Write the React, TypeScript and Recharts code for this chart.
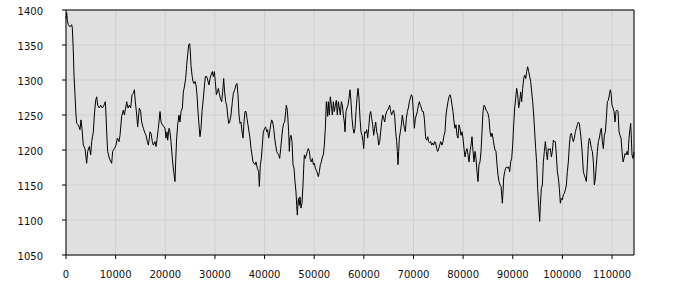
import React from "react";
import { LineChart, Line, XAxis, YAxis, CartesianGrid, ReferenceLine } from "recharts";

const sampleX: number[] = [
  0, 150, 270, 470, 810, 1140, 1280, 1480, 1610, 1810, 2010, 2150, 2480, 2820, 3020, 3220, 3490, 3830, 4160, 4370,
  4700, 4970, 5170, 5510, 5710, 5980, 6180, 6380, 6710, 6980, 7320, 7650, 7920, 8060, 8190, 8390, 8660, 8860, 9200, 9400,
  9740, 10070, 10340, 10680, 10880, 11210, 11550, 11750, 12020, 12220, 12490, 12760, 13030, 13300, 13560, 13770, 13970, 14240, 14440, 14770,
  15040, 15240, 15580, 15910, 16120, 16380, 16590, 16790, 16920, 17120, 17390, 17590, 17930,
  18130, 18330, 18600, 18940, 19140, 19410, 19740, 19940, 20145, 20346, 20480, 20750, 20950, 21150, 21420, 21690, 21960, 22090, 22290, 22500,
  22760, 22965, 23170, 23440, 23640, 23840, 24110, 24310, 24510, 24710, 24910, 25050, 25180, 25380, 25580, 25790, 25990, 26190, 26390, 26590,
  26790, 26990, 27200, 27400, 27670, 27870, 28070, 28340, 28540, 28810, 29010, 29210, 29480, 29680, 29880, 30080, 30290, 30490, 30690, 30890,
  31090, 31360, 31560, 31760, 31960, 32165, 32365, 32570, 32770, 32970, 33240, 33510, 33710, 33980, 34250, 34450, 34650, 34850, 35050, 35250,
  35455, 35660, 35860, 36060, 36260, 36460, 36660, 36865, 37065, 37270, 37470, 37670, 37870,
  38075, 38276, 38540, 38810, 38947, 39150, 39350, 39550, 39750, 40020, 40220, 40425, 40625, 40830, 41030, 41230, 41430, 41630, 41835, 42036,
  42240, 42440, 42640, 42840, 43043, 43245, 43450, 43650, 43850, 44050, 44250, 44386, 44520, 44655, 44855, 44990, 45125, 45330, 45530, 45730,
  45930, 46130, 46334, 46470, 46600, 46800, 47005, 47140, 47340, 47540, 47744, 47878, 48012, 48214, 48415, 48617, 48818, 49020, 49220, 49423,
  49624, 49826, 50027, 50228, 50430, 50631, 50833, 51034, 51236, 51437, 51639, 51840, 52041, 52243, 52444, 52578, 52713, 52847, 53049, 53250,
  53452, 53653, 53855, 54056, 54257, 54459, 54660, 54862, 55063, 55265, 55466, 55668, 55869, 56070, 56205,
  56406, 56608, 56810, 57010, 57212, 57414, 57615, 57817, 58018, 58220, 58421, 58622, 58824, 59025, 59227, 59428, 59630, 59831, 59965, 60167,
  60368, 60570, 60771, 60973, 61174, 61376, 61577, 61778, 61980, 62181, 62383, 62584, 62786, 62987, 63189, 63390, 63592, 63793, 63994, 64196,
  64397, 64599, 64800, 65002, 65203, 65405, 65606, 65807, 66009, 66210, 66412, 66613, 66748, 66882, 67016, 67150, 67352, 67553, 67755, 67956,
  68158, 68359, 68561, 68762, 68963, 69165, 69366, 69568, 69769, 69971, 70172, 70374, 70575, 70777, 70978, 71180, 71381, 71582, 71784, 71985,
  72187, 72321, 72455, 72657, 72858, 73060, 73261, 73463, 73664, 73865, 74067, 74268, 74470, 74671, 74873, 75074, 75276, 75477,
  75745, 75946, 76148, 76350, 76551, 76752, 76954, 77155, 77357, 77558, 77760, 77961, 78162, 78364, 78565, 78767, 78968, 79170, 79371, 79573,
  79774, 79975, 80177, 80378, 80580, 80781, 80983, 81184, 81386, 81587, 81788, 81990, 82191, 82393, 82594, 82796, 82997, 83199, 83400, 83601,
  83803, 84004, 84206, 84407, 84609, 84810, 85012, 85213, 85415, 85616, 85817, 86019, 86220, 86422, 86623, 86825, 87026, 87228, 87429, 87631,
  87765, 87899, 88033, 88168, 88369, 88571, 88772, 88973, 89175, 89376, 89578, 89779, 89981, 90182, 90384, 90585, 90787, 90988, 91189, 91391,
  91592, 91794, 91995, 92197, 92398, 92600, 92801, 93003, 93204, 93406, 93607, 93808, 94010, 94211, 94413, 94614,
  94816, 95017, 95219, 95420, 95554, 95756, 95957, 96159, 96360, 96562, 96763, 96965, 97166, 97367, 97569, 97770, 97972, 98173, 98375, 98576,
  98778, 98979, 99180, 99382, 99583, 99785, 99986, 100188, 100389, 100591, 100792, 100994, 101195, 101396, 101598, 101799, 102001, 102202, 102404, 102605,
  102807, 103008, 103210, 103411, 103612, 103814, 104015, 104217, 104418, 104620, 104821, 105023, 105224, 105425, 105627, 105828, 106030, 106231, 106433, 106634,
  106836, 107037, 107239, 107440, 107641, 107843, 108044, 108246, 108447, 108649, 108850, 109052, 109253, 109455, 109656, 109790, 109992, 110193, 110395, 110596,
  110797, 110999, 111200, 111402, 111603, 111805, 112006, 112208, 112409, 112611, 112812, 113014, 113215, 113417, 113618, 113752, 113886, 114020, 114222, 114420,
];

const level: number[] = [
  1388, 1396, 1385, 1379, 1376, 1379, 1374, 1340, 1307, 1279, 1250, 1238, 1236, 1229, 1243, 1231, 1207, 1202, 1181, 1198,
  1205, 1193, 1212, 1226, 1250, 1271, 1276, 1264, 1260, 1264, 1260, 1264, 1269, 1250, 1226, 1198, 1190, 1186, 1181, 1198,
  1202, 1207, 1217, 1212, 1221, 1248, 1257, 1250, 1260, 1269, 1260, 1264, 1260, 1279, 1281, 1286, 1269, 1250, 1233, 1260,
  1255, 1240, 1231, 1224, 1221, 1212, 1207, 1217, 1226, 1224, 1212, 1207, 1212,
  1205, 1215, 1231, 1255, 1240, 1236, 1233, 1231, 1217, 1226, 1214, 1231, 1226, 1212, 1188, 1169, 1155, 1183, 1217, 1236,
  1250, 1240, 1255, 1260, 1283, 1290, 1302, 1321, 1336, 1350, 1352, 1340, 1321, 1307, 1298, 1295, 1298, 1293, 1279, 1255,
  1236, 1219, 1231, 1255, 1274, 1290, 1305, 1305, 1300, 1293, 1302, 1307, 1312, 1305, 1312, 1298, 1279, 1283, 1288, 1281,
  1274, 1269, 1283, 1302, 1283, 1269, 1264, 1250, 1238, 1240, 1250, 1269, 1281, 1286, 1293, 1295, 1279, 1250, 1238, 1240,
  1226, 1217, 1240, 1255, 1255, 1245, 1236, 1226, 1217, 1202, 1193, 1183, 1181,
  1179, 1183, 1174, 1169, 1148, 1179, 1188, 1207, 1226, 1231, 1233, 1226, 1229, 1217, 1226, 1236, 1243, 1240, 1231, 1217,
  1207, 1198, 1195, 1193, 1188, 1202, 1217, 1231, 1238, 1240, 1255, 1264, 1260, 1250, 1226, 1198, 1217, 1221, 1212, 1179,
  1174, 1155, 1140, 1121, 1107, 1131, 1121, 1133, 1117, 1124, 1150, 1174, 1193, 1188, 1193, 1198, 1202, 1198, 1186, 1183,
  1188, 1179, 1181, 1174, 1171, 1167, 1162, 1169, 1179, 1183, 1190, 1193, 1207, 1231, 1269, 1260, 1248, 1269, 1250, 1276,
  1264, 1250, 1269, 1255, 1264, 1271, 1250, 1269, 1260, 1250, 1269, 1264, 1250, 1240, 1226,
  1255, 1260, 1264, 1274, 1286, 1269, 1245, 1231, 1224, 1231, 1255, 1274, 1288, 1274, 1245, 1226, 1221, 1212, 1202, 1226,
  1224, 1229, 1217, 1231, 1250, 1255, 1245, 1236, 1221, 1231, 1240, 1226, 1221, 1207, 1212, 1226, 1240, 1250, 1245, 1240,
  1250, 1255, 1257, 1260, 1264, 1255, 1250, 1255, 1257, 1248, 1226, 1212, 1198, 1179, 1198, 1217, 1226, 1236, 1250, 1240,
  1231, 1226, 1245, 1255, 1260, 1269, 1274, 1279, 1276, 1255, 1231, 1245, 1250, 1255, 1264, 1269, 1264, 1260, 1255, 1255,
  1245, 1231, 1217, 1214, 1219, 1212, 1210, 1212, 1207, 1210, 1207, 1212, 1210, 1202, 1198, 1202, 1207, 1212,
  1207, 1212, 1221, 1226, 1250, 1260, 1269, 1276, 1279, 1274, 1264, 1255, 1240, 1231, 1236, 1221, 1217, 1236, 1231, 1221,
  1226, 1217, 1202, 1190, 1198, 1202, 1193, 1183, 1198, 1207, 1219, 1198, 1183, 1198, 1188, 1169, 1155, 1179, 1183, 1198,
  1226, 1255, 1264, 1262, 1257, 1255, 1252, 1245, 1226, 1219, 1224, 1217, 1207, 1200, 1198, 1179, 1164, 1155, 1150, 1148,
  1136, 1124, 1140, 1160, 1169, 1174, 1176, 1174, 1176, 1169, 1183, 1188, 1207, 1236, 1260, 1274, 1288, 1279, 1260, 1269,
  1283, 1269, 1288, 1302, 1307, 1302, 1312, 1319, 1312, 1305, 1298, 1283, 1269, 1250, 1226, 1202,
  1181, 1145, 1120, 1098, 1121, 1145, 1150, 1183, 1198, 1212, 1198, 1186, 1202, 1200, 1202, 1190, 1198, 1214, 1212, 1212,
  1193, 1169, 1160, 1145, 1124, 1131, 1129, 1136, 1138, 1143, 1150, 1169, 1183, 1207, 1221, 1224, 1217, 1212, 1217, 1226,
  1231, 1236, 1240, 1238, 1226, 1212, 1193, 1169, 1164, 1160, 1155, 1179, 1207, 1217, 1212, 1202, 1198, 1183, 1150, 1160,
  1179, 1198, 1212, 1217, 1226, 1231, 1212, 1202, 1221, 1226, 1245, 1269, 1271, 1279, 1286, 1281, 1264, 1260, 1255, 1240,
  1255, 1257, 1255, 1226, 1221, 1217, 1198, 1183, 1188, 1195, 1193, 1198, 1193, 1217, 1231, 1238, 1217, 1193, 1188, 1197,
];

const xTicks: number[] = [0, 10000, 20000, 30000, 40000, 50000, 60000, 70000, 80000, 90000, 100000, 110000];
const yTicks: number[] = [1050, 1100, 1150, 1200, 1250, 1300, 1350, 1400];

const data = sampleX.map((x, i) => ({ x, v: level[i] }));

const tickStyle = { fill: "#111", fontSize: 10, fontFamily: "'DejaVu Sans', Verdana, sans-serif" };

export default function App() {
  return (
    <div style={{ position: "absolute", left: 0, top: 0, width: 700, height: 300, background: "#fff" }}>
      <LineChart width={700} height={300} data={data} margin={{ top: 10, right: 0, bottom: 0, left: 0 }}>
        <CartesianGrid stroke="#cfcfcf" fill="#e0e0e0" fillOpacity={1} />
        <XAxis
          dataKey="x"
          type="number"
          domain={[0, "dataMax"]}
          ticks={xTicks}
          height={45}
          tick={tickStyle}
          tickSize={4}
          tickMargin={12}
          stroke="#000"
          interval={0}
        />
        <YAxis
          type="number"
          domain={[1050, 1400]}
          ticks={yTicks}
          width={66}
          tick={{ ...tickStyle, dy: 1 }}
          tickSize={4}
          tickMargin={19}
          stroke="#000"
          interval={0}
        />
        <YAxis
          yAxisId="right"
          orientation="right"
          type="number"
          domain={[1050, 1400]}
          ticks={yTicks}
          width={66}
          tick={{ ...tickStyle, dx: 14, dy: 1 }}
          tickSize={4}
          tickMargin={18}
          stroke="#000"
          interval={0}
        />
        <ReferenceLine y={1400} stroke="#000" strokeWidth={1} />
        <Line
          dataKey="v"
          type="linear"
          stroke="#000"
          strokeWidth={1}
          dot={false}
          isAnimationActive={false}
        />
      </LineChart>
    </div>
  );
}
